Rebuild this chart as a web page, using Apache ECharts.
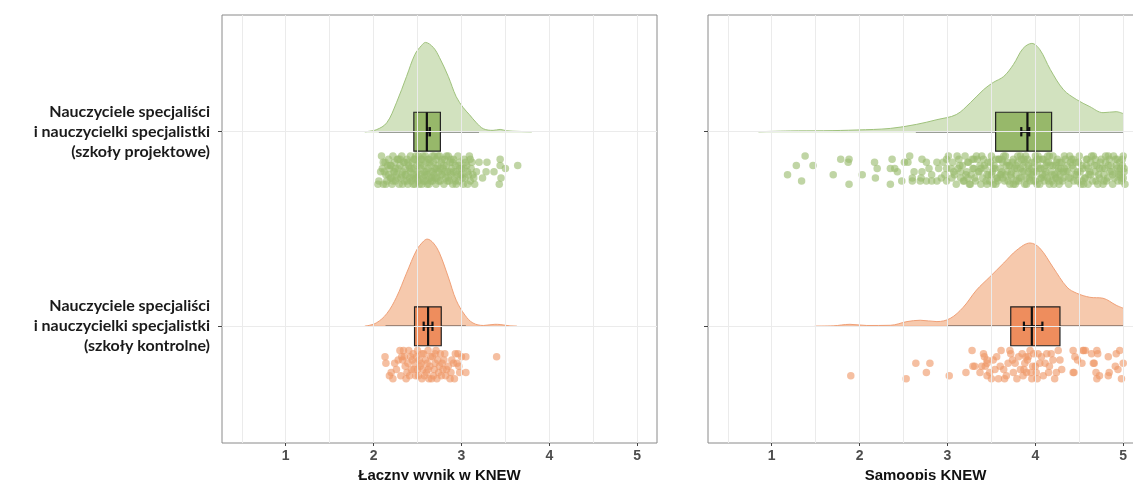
<!DOCTYPE html>
<html>
<head>
<meta charset="utf-8">
<title>KNEW</title>
<script src="https://cdn.jsdelivr.net/npm/echarts@6/dist/echarts.min.js"></script>
</head>
<body style="margin:0;padding:0;">
<div id="main" style="width:1133px;height:480px;"></div>
<script type="text/javascript">
// y positions: 2 = szkoly projektowe (green), 1 = szkoly kontrolne (orange)
var groupLabels = {
  1: 'Nauczyciele specjaliści\ni nauczycielki specjalistki\n(szkoły kontrolne)',
  2: 'Nauczyciele specjaliści\ni nauczycielki specjalistki\n(szkoły projektowe)'
};
var panelNames = ['Łączny wynik w KNEW', 'Samoopis KNEW'];
var xTicks = [1, 2, 3, 4, 5];
var gridX = [0.5, 1, 1.5, 2, 2.5, 3, 3.5, 4, 4.5, 5];

// density heights (y units above the baseline)
var densGreenL = [[1.90,0],[2.03,0.010],[2.15,0.046],[2.26,0.149],[2.375,0.284],[2.47,0.397],[2.545,0.443],[2.59,0.459],[2.68,0.433],[2.75,0.381],[2.85,0.284],[2.94,0.180],[3.02,0.124],[3.09,0.088],[3.17,0.046],[3.25,0.015],[3.36,0.007],[3.44,0.012],[3.51,0.005],[3.66,0.0015],[3.80,0]];
var densOrangeL = [[1.90,0],[2.03,0.017],[2.15,0.065],[2.26,0.149],[2.375,0.273],[2.49,0.392],[2.57,0.438],[2.61,0.448],[2.68,0.428],[2.75,0.376],[2.85,0.253],[2.94,0.134],[3.04,0.057],[3.13,0.017],[3.25,0.004],[3.38,0.010],[3.44,0.009],[3.55,0.002],[3.63,0]];
var densGreenR = [[0.85,0],[1.21,0.004],[1.59,0.005],[1.97,0.009],[2.35,0.017],[2.65,0.038],[2.88,0.062],[3.10,0.088],[3.26,0.149],[3.41,0.216],[3.52,0.253],[3.64,0.284],[3.75,0.345],[3.86,0.428],[3.96,0.454],[4.05,0.423],[4.17,0.320],[4.32,0.216],[4.47,0.165],[4.62,0.129],[4.77,0.098],[4.92,0.103],[5.0,0.093]];
var densOrangeR = [[1.49,0],[1.70,0.002],[1.89,0.010],[2.08,0.004],[2.35,0.005],[2.54,0.024],[2.69,0.031],[2.88,0.024],[3.03,0.040],[3.18,0.098],[3.33,0.186],[3.48,0.253],[3.64,0.325],[3.79,0.392],[3.94,0.428],[4.05,0.402],[4.20,0.304],[4.36,0.201],[4.47,0.170],[4.62,0.149],[4.77,0.144],[4.92,0.108],[5.0,0.093]];

// box: [whiskerLow, q1, median, q3, whiskerHigh, mean, ciLow, ciHigh]
var boxGreenL = [2.06, 2.458, 2.606, 2.76, 3.20, 2.625, 2.61, 2.64];
var boxOrangeL = [2.136, 2.466, 2.62, 2.77, 3.05, 2.62, 2.57, 2.67];
var boxGreenR = [2.64, 3.548, 3.91, 4.185, 5.0, 3.885, 3.84, 3.93];
var boxOrangeR = [3.0, 3.72, 3.96, 4.28, 5.0, 3.975, 3.87, 4.08];

// jittered points: [x, jitter 0..9]
var ptsGreenL = [[3.20,2],[3.29,2],[3.37,5],[3.44,1],[3.44,3],[3.50,4],[3.64,3],[3.43,9],[3.45,7],[3.28,5],[3.24,7],[3.17,5],[3.15,9],[2.06,8],[2.09,0],[2.05,9],
[2.10,4],[2.11,9],[2.13,2],[2.14,6],[2.15,8],[2.17,1],[2.18,4],[2.19,7],[2.20,3],[2.21,9],[2.22,0],[2.23,5],[2.24,2],[2.25,8],[2.26,6],[2.27,1],[2.28,4],[2.29,9],[2.30,3],[2.31,7],[2.32,0],[2.33,5],[2.34,2],[2.35,8],[2.36,4],[2.37,6],[2.38,1],[2.39,9],[2.40,3],[2.41,7],[2.42,5],[2.42,0],[2.43,8],[2.44,2],[2.45,6],[2.46,4],[2.47,9],[2.47,1],[2.48,7],[2.49,3],[2.50,5],[2.51,0],[2.51,8],[2.52,2],[2.53,6],[2.54,4],[2.55,9],[2.55,1],[2.56,7],[2.57,3],[2.58,5],[2.59,0],[2.59,8],[2.60,2],[2.61,6],[2.62,4],[2.63,9],[2.63,1],[2.64,7],[2.65,3],[2.66,5],[2.67,0],[2.67,8],[2.68,2],[2.69,6],[2.70,4],[2.71,9],[2.71,1],[2.72,7],[2.73,3],[2.74,5],[2.75,0],[2.76,8],[2.77,2],[2.78,6],[2.79,4],[2.80,9],[2.81,1],[2.82,7],[2.83,3],[2.84,5],[2.85,0],[2.86,8],[2.87,2],[2.88,6],[2.89,4],[2.90,9],[2.91,1],[2.92,7],[2.93,3],[2.94,5],[2.96,0],[2.97,8],[2.98,2],[2.99,6],[3.00,4],[3.02,9],[3.03,1],[3.04,7],[3.06,3],[3.07,5],[3.09,0],[3.10,8],[3.12,2],[3.13,6],
[2.12,5],[2.16,3],[2.20,7],[2.24,5],[2.28,1],[2.32,6],[2.35,2],[2.38,8],[2.41,4],[2.44,7],[2.46,1],[2.49,6],[2.52,9],[2.54,1],[2.57,8],[2.60,5],[2.62,1],[2.65,8],[2.68,5],[2.70,7],[2.73,0],[2.76,4],[2.78,1],[2.81,5],[2.84,8],[2.87,5],[2.90,2],[2.93,8],[2.95,6],[2.98,4],[3.01,7],[3.05,2],[3.08,6],[3.11,4],
[2.08,5],[2.11,2],[2.14,9],[2.17,6],[2.19,3],[2.22,8],[2.25,4],[2.27,7],[2.30,1],[2.33,9],[2.36,6],[2.39,2],[2.43,4],[2.45,9],[2.48,0],[2.50,7],[2.53,3],[2.56,0],[2.58,6],[2.61,9],[2.64,2],[2.66,7],[2.69,0],[2.72,4],[2.74,8],[2.77,6],[2.80,3],[2.83,0],[2.85,7],[2.88,1],[2.91,5],[2.94,9],[2.97,3],[3.00,6],[3.03,4],[3.07,9],[3.10,1],[3.14,7]];
var ptsOrangeL = [[2.13,2],[2.14,4],[2.18,8],[2.20,7],[2.26,6],[2.24,4],[2.30,0],[2.32,2],[2.33,3],[2.34,0],[2.36,5],[2.38,7],[2.40,0],[2.42,2],[2.43,6],[2.45,1],[2.47,4],[2.48,8],[2.50,0],[2.52,3],[2.53,5],[2.55,9],[2.57,1],[2.59,3],[2.60,7],[2.62,0],[2.64,5],[2.66,9],[2.67,2],[2.69,6],[2.71,0],[2.73,3],[2.74,7],[2.76,1],[2.78,4],[2.80,3],[2.82,8],[2.83,6],[2.87,9],[2.89,3],[2.91,4],[2.93,1],[2.96,1],[2.98,7],[3.00,2],[3.40,2],[3.05,2],[3.05,7],[2.95,4],
[2.22,9],[2.28,3],[2.31,8],[2.35,2],[2.37,9],[2.39,4],[2.41,8],[2.44,3],[2.46,6],[2.49,2],[2.51,8],[2.54,4],[2.56,6],[2.58,8],[2.61,4],[2.63,9],[2.65,2],[2.68,8],[2.70,4],[2.72,9],[2.75,5],[2.77,8],[2.79,6],[2.81,1],[2.85,5],[2.88,7],[2.92,9],[2.97,5],[2.55,1],[2.62,6],[2.70,1],[2.50,6]];
var ptsGreenR = [[1.38,0],[1.28,3],[1.47,3],[1.18,6],[1.34,8],[1.785,1],[1.88,1],[1.87,2],[1.70,6],[1.88,9],[2.03,6],[2.17,2],[2.20,4],[2.18,7],[2.37,1],[2.35,4],[2.40,4],[2.43,5],[2.35,9],[2.51,2],[2.57,0],[2.55,2],[2.48,8],[2.62,5],[2.60,7],[2.60,8],[2.71,1],[2.76,2],[2.71,5],[2.70,7],[2.69,8],[2.76,8],[2.82,6],[2.79,4],[2.88,2],[2.90,4],[2.93,7],[2.95,2],[2.99,1],[3.01,0],[2.99,4],[2.97,6],[2.99,8],[3.04,4],[3.05,7],[2.88,8],[2.82,8],
[3.06,2],[3.08,6],[3.10,9],[3.12,4],[3.13,1],[3.15,7],[3.17,3],[3.18,8],[3.20,0],[3.22,5],[3.23,2],[3.25,9],[3.27,6],[3.28,1],[3.30,4],[3.32,8],[3.33,0],[3.35,5],[3.37,3],[3.38,9],[3.40,7],[3.41,1],[3.43,4],[3.45,6],[3.46,2],[3.48,8],[3.50,0],[3.51,5],[3.53,3],[3.55,9],[3.56,7],[3.58,1],[3.60,4],[3.61,6],[3.63,2],[3.65,8],[3.66,0],[3.68,5],[3.70,3],[3.71,9],[3.73,7],[3.75,1],[3.76,4],[3.78,6],[3.80,2],[3.81,8],[3.83,0],[3.85,5],[3.86,3],[3.88,9],[3.90,7],[3.91,1],[3.93,4],[3.95,6],[3.96,2],[3.98,8],[4.00,0],[4.01,5],[4.03,3],[4.05,9],[4.06,7],[4.08,1],[4.10,4],[4.11,6],[4.13,2],[4.15,8],[4.16,0],[4.18,5],[4.20,3],[4.21,9],[4.23,7],[4.25,1],[4.26,4],[4.28,6],[4.30,2],[4.31,8],[4.33,0],[4.35,5],[4.36,3],[4.38,9],[4.40,7],[4.41,1],[4.43,4],[4.45,6],[4.46,2],[4.48,8],[4.50,0],[4.51,5],[4.53,3],[4.55,9],[4.56,7],[4.58,1],[4.60,4],[4.61,6],[4.63,2],[4.65,8],[4.66,0],[4.68,5],[4.70,3],[4.71,9],[4.73,7],[4.75,1],[4.76,4],[4.78,6],[4.80,2],[4.81,8],[4.83,0],[4.85,5],[4.86,3],[4.88,9],[4.90,7],[4.91,1],[4.93,4],[4.95,6],[4.96,2],[4.98,8],[5.00,0],[5.01,5],[4.99,3],[5.02,9],
[3.07,5],[3.11,0],[3.14,3],[3.19,8],[3.21,6],[3.24,2],[3.26,9],[3.29,4],[3.31,7],[3.34,1],[3.36,5],[3.39,0],[3.42,3],[3.44,8],[3.47,6],[3.49,2],[3.52,9],[3.54,4],[3.57,7],[3.59,1],[3.62,5],[3.64,0],[3.67,3],[3.69,8],[3.72,6],[3.74,2],[3.77,9],[3.79,4],[3.82,7],[3.84,1],[3.87,5],[3.89,0],[3.92,3],[3.94,8],[3.97,6],[3.99,2],[4.02,9],[4.04,4],[4.07,7],[4.09,1],[4.12,5],[4.14,0],[4.17,3],[4.19,8],[4.22,6],[4.24,2],[4.27,9],[4.29,4],[4.32,7],[4.34,1],[4.37,5],[4.39,0],[4.42,3],[4.44,8],[4.47,6],[4.49,2],[4.52,9],[4.54,4],[4.57,7],[4.59,1],[4.62,5],[4.64,0],[4.67,3],[4.69,8],[4.72,6],[4.74,2],[4.77,9],[4.79,4],[4.82,7],[4.84,1],[4.87,5],[4.89,0],[4.92,3],[4.94,8],[4.97,6],[4.99,1],[5.01,4],[4.98,7],
[3.52,4],[3.57,8],[3.62,1],[3.66,6],[3.71,3],[3.75,9],[3.80,0],[3.84,7],[3.88,2],[3.92,5],[3.96,4],[4.00,8],[4.04,1],[4.08,6],[4.12,3],[4.16,9],[4.20,0],[4.24,7],[4.28,2],[4.32,5],[3.60,6],[3.78,3],[3.90,9],[4.02,1],[4.14,7],[4.26,5],[4.40,2],[4.60,9],[4.80,0],[4.95,5],
[3.15,5],[3.23,7],[3.30,1],[3.38,4],[3.45,9],[3.50,6],[3.55,1],[3.63,7],[3.68,2],[3.73,5],[3.78,8],[3.83,4],[3.87,1],[3.93,7],[3.98,5],[4.03,0],[4.06,4],[4.10,8],[4.15,2],[4.19,6],[4.23,3],[4.27,8],[4.33,4],[4.38,7],[4.43,1],[4.48,5],[4.53,8],[4.58,3],[4.63,6],[4.68,1],[4.73,4],[4.78,8],[4.83,3],[4.88,6],[4.93,1],[4.97,4],[5.00,7]];
var ptsOrangeR = [[1.90,8],[2.64,4],[2.80,4],[2.76,7],[2.53,9],[3.02,8],[3.28,0],[3.42,2],[3.21,7],[3.29,5],[3.37,7],[3.39,5],[3.45,4],[3.45,8],[3.31,5],
[3.41,1],[3.43,5],[3.45,3],[3.48,7],[3.50,9],[3.54,6],[3.56,2],[3.58,9],[3.61,0],[3.64,6],[3.65,9],[3.69,4],[3.71,0],[3.72,1],[3.75,7],[3.77,4],[3.81,2],[3.83,6],[3.85,1],[3.86,8],[3.88,4],[3.90,7],[3.92,2],[3.94,0],[3.96,9],[3.98,1],[4.00,5],[4.01,7],[4.03,1],[4.05,4],[4.09,8],[4.11,4],[4.13,1],[4.15,7],[4.18,1],[4.20,3],[4.24,7],[4.26,0],[4.28,3],[4.30,6],
[4.43,0],[4.45,2],[4.44,7],[4.48,3],[4.54,0],[4.57,0],[4.64,1],[4.67,4],[4.69,7],[4.71,1],[4.70,9],[4.83,2],[4.84,7],[4.92,1],[4.94,6],[4.96,0],[4.98,9],[5.00,4],
[4.55,0],[4.70,0],[4.91,5],[4.73,8],[4.53,4],[4.43,7],[4.66,4],[4.83,8],
[3.52,3],[3.60,5],[3.67,8],[3.74,3],[3.79,9],[3.87,6],[3.91,3],[3.97,5],[4.02,9],[4.07,2],[4.16,5],[4.22,9],[3.95,7],[3.89,2]];

var GREEN = {line: '#9fc27c', area: '#d2e2bf', box: '#97b86a', pt: '#9abb6d'};
var ORANGE = {line: '#f0a077', area: '#f6c9ad', box: '#ee8d5d', pt: '#ef9868'};

var myChart = echarts.init(document.getElementById('main'));

function densitySeries(dens, base, col, p) {
  return [{
    type: 'line', xAxisIndex: p, yAxisIndex: p, z: 2, smooth: 0.35, symbol: 'none', silent: true,
    data: dens.map(function (d) { return [d[0], base + d[1]]; }),
    lineStyle: {color: col.line, width: 1},
    areaStyle: {color: col.area, opacity: 1, origin: base}
  }, {
    type: 'line', xAxisIndex: p, yAxisIndex: p, z: 2, symbol: 'none', silent: true,
    data: [[dens[0][0], base], [dens[dens.length - 1][0], base]],
    lineStyle: {color: col.line, width: 1}
  }];
}

function boxSeries(b, base, col, p) {
  return {
    type: 'custom', xAxisIndex: p, yAxisIndex: p, z: 4, silent: true,
    data: [b.concat([base])],
    renderItem: function (params, api) {
      var y = api.value(8);
      var c = function (x, yy) { return api.coord([x, yy]); };
      var h = 0.1, cap = 0.024;
      var tl = c(api.value(1), y + h), br = c(api.value(3), y - h);
      var ch = [];
      var w0 = c(api.value(0), y), w1 = c(api.value(4), y);
      ch.push({type: 'line', shape: {x1: w0[0], y1: w0[1], x2: w1[0], y2: w1[1]}, style: {stroke: '#4a4a4a', lineWidth: 1.5}});
      ch.push({type: 'rect', shape: {x: tl[0], y: tl[1], width: br[0] - tl[0], height: br[1] - tl[1]}, style: {fill: col.box, stroke: '#222', lineWidth: 1.2}});
      var m0 = c(api.value(2), y + h), m1 = c(api.value(2), y - h);
      ch.push({type: 'line', shape: {x1: m0[0], y1: m0[1], x2: m1[0], y2: m1[1]}, style: {stroke: '#111', lineWidth: 2.2}});
      var e0 = c(api.value(6), y), e1 = c(api.value(7), y);
      ch.push({type: 'line', shape: {x1: e0[0], y1: e0[1], x2: e1[0], y2: e1[1]}, style: {stroke: '#111', lineWidth: 2.2}});
      [api.value(6), api.value(7)].forEach(function (v) {
        var a = c(v, y + cap), bb = c(v, y - cap);
        ch.push({type: 'line', shape: {x1: a[0], y1: a[1], x2: bb[0], y2: bb[1]}, style: {stroke: '#111', lineWidth: 2.2}});
      });
      return {type: 'group', children: ch};
    }
  };
}

function pointSeries(pts, base, col, p) {
  return {
    type: 'scatter', xAxisIndex: p, yAxisIndex: p, z: 3, silent: true, symbolSize: 7.5,
    data: pts.map(function (d) { return [d[0], base - (0.125 + d[1] / 9 * 0.145)]; }),
    itemStyle: {color: col.pt, opacity: 0.62}
  };
}

function gridSeries(p) {
  return {
    type: 'line', xAxisIndex: p, yAxisIndex: p, z: 1, data: [], silent: true,
    markLine: {
      silent: true, symbol: 'none', label: {show: false},
      lineStyle: {color: '#ebebeb', width: 1, type: 'solid'},
      data: gridX.map(function (v) { return {xAxis: v}; }).concat([{yAxis: 1}, {yAxis: 2}])
    }
  };
}

var series = [];
series.push(gridSeries(0), gridSeries(1));
series = series.concat(densitySeries(densGreenL, 2, GREEN, 0), densitySeries(densOrangeL, 1, ORANGE, 0));
series = series.concat(densitySeries(densGreenR, 2, GREEN, 1), densitySeries(densOrangeR, 1, ORANGE, 1));
series.push(boxSeries(boxGreenL, 2, GREEN, 0), boxSeries(boxOrangeL, 1, ORANGE, 0));
series.push(boxSeries(boxGreenR, 2, GREEN, 1), boxSeries(boxOrangeR, 1, ORANGE, 1));
series.push(pointSeries(ptsGreenL, 2, GREEN, 0), pointSeries(ptsOrangeL, 1, ORANGE, 0));
series.push(pointSeries(ptsGreenR, 2, GREEN, 1), pointSeries(ptsOrangeR, 1, ORANGE, 1));

function xAxis(p) {
  return {
    type: 'value', gridIndex: p, min: 0.275, max: 5.225,
    name: panelNames[p], nameLocation: 'middle', nameGap: 23,
    nameTextStyle: {fontFamily: 'Liberation Sans', fontWeight: 'bold', fontSize: 15, color: '#111'},
    axisLine: {show: false},
    axisTick: {show: true, customValues: xTicks, length: 3, lineStyle: {color: '#444'}},
    axisLabel: {customValues: xTicks, margin: 6, fontFamily: 'Liberation Sans', fontWeight: 'bold', fontSize: 14, color: '#4d4d4d'},
    splitLine: {show: false}
  };
}
function yAxis(p) {
  return {
    type: 'value', gridIndex: p, min: 0.4, max: 2.6,
    axisLine: {show: false},
    axisTick: {show: true, customValues: [1, 2], length: 4, lineStyle: {color: '#444'}},
    axisLabel: {
      show: p === 0, customValues: [1, 2], margin: 12,
      formatter: function (v) { return groupLabels[v] || ''; },
      fontFamily: 'Lato', fontWeight: 'bold', fontSize: 16, lineHeight: 20, color: '#1a1a1a', align: 'right'
    },
    splitLine: {show: false}
  };
}

var option = {
  animation: false,
  backgroundColor: '#fff',
  grid: [
    {left: 222, top: 15, width: 435, height: 428, outerBoundsMode: 'none', containLabel: false, show: true, borderColor: '#8a8a8a', borderWidth: 1, backgroundColor: 'transparent'},
    {left: 708, top: 15, width: 435, height: 428, outerBoundsMode: 'none', containLabel: false, show: true, borderColor: '#8a8a8a', borderWidth: 1, backgroundColor: 'transparent'}
  ],
  xAxis: [xAxis(0), xAxis(1)],
  yAxis: [yAxis(0), yAxis(1)],
  series: series
};
myChart.setOption(option);
</script>
</body>
</html>
